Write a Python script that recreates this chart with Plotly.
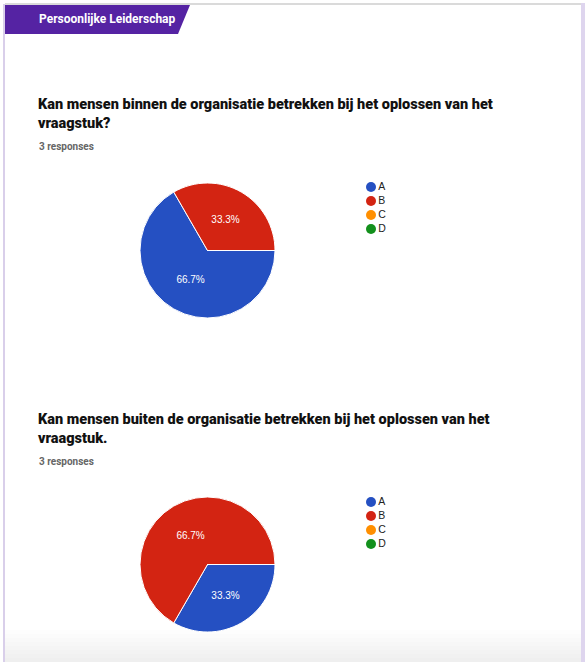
import plotly.graph_objects as go

W, H = 587, 662

# ---- data ----
categories = ["A", "B", "C", "D"]
q1_values = [2, 1, 0, 0]
q2_values = [1, 2, 0, 0]
colors = ["#2550C2", "#D32412", "#FF8F00", "#13901C"]
header_text = "Persoonlijke Leiderschap"
q1_title = "Kan mensen binnen de organisatie betrekken bij het oplossen van het<br>vraagstuk?"
q2_title = "Kan mensen buiten de organisatie betrekken bij het oplossen van het<br>vraagstuk."
responses_text = "3 responses"


def px(x):
    return x / W


def py(y):
    return 1 - y / H


fig = go.Figure()


def add_pie(values, top, bottom, left, right):
    fig.add_trace(go.Pie(
        labels=categories, values=values, sort=False, direction="clockwise",
        rotation=90, marker=dict(colors=colors, line=dict(color="white", width=1)),
        texttemplate="%{percent:.1%}", textposition="inside",
        insidetextorientation="horizontal",
        textfont=dict(family="Liberation Sans, Arial", size=10, color="white"),
        domain=dict(x=[px(left), px(right)], y=[py(bottom), py(top)]),
        showlegend=False, hoverinfo="label+percent",
    ))


add_pie(q1_values, 183, 318, 140, 275)
add_pie(q2_values, 497, 632, 140, 275)


def add_legend(ax_idx, top):
    xa = f"x{ax_idx}"
    ya = f"y{ax_idx}"
    fig.add_trace(go.Scatter(
        x=[0] * len(categories), y=list(range(len(categories))),
        mode="markers+text", text=categories, textposition="middle right",
        textfont=dict(family="Liberation Sans, Arial", size=10.5, color="#222222"),
        marker=dict(color=colors, size=10, symbol="circle"),
        xaxis=xa, yaxis=ya, showlegend=False, hoverinfo="skip",
    ))
    fig.update_layout(**{
        f"xaxis{ax_idx}": dict(domain=[px(366), px(466)], range=[-0.5, 9.5],
                               visible=False, fixedrange=True, anchor=ya),
        f"yaxis{ax_idx}": dict(domain=[py(top + 56), py(top)], range=[3.5, -0.5],
                               visible=False, fixedrange=True, anchor=xa),
    })


add_legend(2, 180)
add_legend(3, 495)

shapes = []
# frame
shapes.append(dict(type="rect", xref="paper", yref="paper", x0=px(3), x1=px(5),
                   y0=py(662), y1=py(4), line=dict(width=0), fillcolor="#D9CFEA"))
shapes.append(dict(type="rect", xref="paper", yref="paper", x0=px(581), x1=px(585),
                   y0=py(662), y1=py(3), line=dict(width=0), fillcolor="#DED5EE"))
shapes.append(dict(type="rect", xref="paper", yref="paper", x0=px(5), x1=px(581),
                   y0=py(5), y1=py(3), line=dict(width=0), fillcolor="#DADADA"))
# bottom gradient
greys = ["#FDFDFD", "#FBFBFB", "#F9F9F9", "#F7F7F7", "#F5F5F5", "#F3F3F3", "#F1F1F1", "#EFEFEF"]
for i, g in enumerate(greys):
    y0 = 630 + i * 4
    shapes.append(dict(type="rect", xref="paper", yref="paper", x0=px(5), x1=px(581),
                       y0=py(y0 + 4), y1=py(y0), line=dict(width=0), fillcolor=g,
                       layer="below"))
# header banner
shapes.append(dict(type="path", xref="paper", yref="paper",
                   path=f"M {px(5)},{py(5)} L {px(190)},{py(5)} L {px(178)},{py(34)} L {px(5)},{py(34)} Z",
                   line=dict(width=0), fillcolor="#5523A3"))
fig.update_layout(shapes=shapes)

annotations = [
    dict(text=f"<b>{header_text}</b>", x=px(37), y=py(19), xanchor="left", yanchor="middle",
         font=dict(family="Roboto", size=12, color="white")),
    dict(text=q1_title, x=px(36), y=py(94), xanchor="left", yanchor="top",
         align="left", font=dict(family="Roboto", size=14.5, weight=900, color="#111111")),
    dict(text=f"<b>{responses_text}</b>", x=px(37), y=py(146), xanchor="left", yanchor="middle",
         font=dict(family="Roboto", size=10, color="#666666")),
    dict(text=q2_title, x=px(36), y=py(409), xanchor="left", yanchor="top",
         align="left", font=dict(family="Roboto", size=14.5, weight=900, color="#111111")),
    dict(text=f"<b>{responses_text}</b>", x=px(37), y=py(461), xanchor="left", yanchor="middle",
         font=dict(family="Roboto", size=10, color="#666666")),
]
for a in annotations:
    a.update(xref="paper", yref="paper", showarrow=False)
fig.update_layout(annotations=annotations)

fig.update_layout(width=W, height=H, margin=dict(l=0, r=0, t=0, b=0),
                  paper_bgcolor="white", plot_bgcolor="white")

fig.write_html("out.html", config={"displayModeBar": False},
               post_script="document.body.style.margin='0';document.body.style.overflow='hidden';")
